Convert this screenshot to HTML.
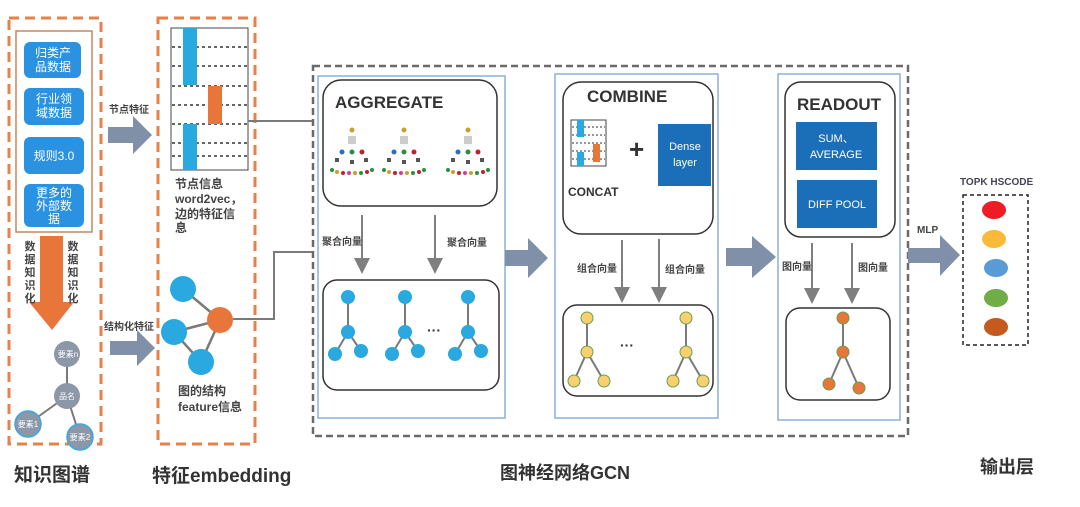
<!DOCTYPE html>
<html><head><meta charset="utf-8"><style>
html,body{margin:0;padding:0;background:#fff;}
svg{display:block;font-family:"Liberation Sans","Noto Sans CJK SC",sans-serif;}
.b{font-weight:bold;}
</style></head><body>
<svg width="1080" height="507" viewBox="0 0 1080 507" xmlns="http://www.w3.org/2000/svg">
<defs>
<marker id="ah" markerWidth="8" markerHeight="8" refX="4" refY="4" orient="auto"><path d="M0,0 L8,4 L0,8 z" fill="#7f7f7f"/></marker>
<g id="tree">
<circle cx="0" cy="0" r="2.5" fill="#c8a030"/><rect x="-4" y="6" width="8" height="8" fill="#ccc"/>
<g fill="#555"><rect x="-17" y="28" width="4" height="4"/><rect x="-2" y="30" width="4" height="4"/><rect x="12" y="28" width="4" height="4"/></g>
<circle cx="-10" cy="22" r="2.5" fill="#2a70c0"/><circle cx="0" cy="22" r="2.5" fill="#2a9040"/><circle cx="10" cy="22" r="2.5" fill="#c02030"/>
<g><circle cx="-20" cy="40" r="2" fill="#2a9040"/><circle cx="-15" cy="42" r="2" fill="#c8a030"/><circle cx="-9" cy="43" r="2" fill="#c02030"/><circle cx="-3" cy="43" r="2" fill="#d04090"/><circle cx="3" cy="43" r="2" fill="#c8a030"/><circle cx="9" cy="43" r="2" fill="#2a9040"/><circle cx="15" cy="42" r="2" fill="#c02030"/><circle cx="20" cy="40" r="2" fill="#2a9040"/></g>
</g>
<g id="bt" stroke="#7a7a7a" stroke-width="2">
<line x1="0" y1="0" x2="0" y2="35"/><line x1="0" y1="35" x2="-13" y2="57"/><line x1="0" y1="35" x2="13" y2="54"/>
<g fill="#2aa8e0" stroke="none"><circle cx="0" cy="0" r="7"/><circle cx="0" cy="35" r="7"/><circle cx="-13" cy="57" r="7"/><circle cx="13" cy="54" r="7"/></g></g>
<g id="yt" stroke="#7a7a7a" stroke-width="2">
<line x1="0" y1="0" x2="0" y2="34"/><line x1="0" y1="34" x2="-13" y2="63"/><line x1="0" y1="34" x2="17" y2="63"/>
<g fill="#f8d070" stroke="#6aa050" stroke-width="1"><circle cx="0" cy="0" r="6"/><circle cx="0" cy="34" r="6"/><circle cx="-13" cy="63" r="6"/><circle cx="17" cy="63" r="6"/></g></g>
</defs>
<!-- Left: knowledge graph -->
<rect x="9" y="18" width="92" height="426" fill="none" stroke="#e8804a" stroke-width="3" stroke-dasharray="10,6"/>
<rect x="16" y="31" width="76" height="201" fill="none" stroke="#c8875e" stroke-width="1.5"/>
<g fill="#2a92e0">
<rect x="24" y="42" width="57" height="36" rx="6"/>
<rect x="24" y="88" width="60" height="37" rx="6"/>
<rect x="24" y="137" width="60" height="37" rx="6"/>
<rect x="24" y="184" width="60" height="43" rx="6"/>
</g>
<g fill="#fff" font-size="12" text-anchor="middle">
<text x="53" y="57">归类产</text><text x="53" y="71">品数据</text>
<text x="54" y="103">行业领</text><text x="54" y="117">域数据</text>
<text x="54" y="160">规则3.0</text>
<text x="54" y="197">更多的</text><text x="54" y="210">外部数</text><text x="54" y="223">据</text>
</g>
<polygon points="40,236 63,236 63,302 74,302 52,330 29,302 40,302" fill="#e8763a"/>
<g font-size="11" class="b" fill="#444" text-anchor="middle">
<text x="30" y="250">数</text><text x="30" y="263">据</text><text x="30" y="276">知</text><text x="30" y="289">识</text><text x="30" y="302">化</text>
<text x="73" y="250">数</text><text x="73" y="263">据</text><text x="73" y="276">知</text><text x="73" y="289">识</text><text x="73" y="302">化</text>
</g>
<g stroke="#7a7a7a" stroke-width="2"><line x1="67" y1="355" x2="67" y2="396"/><line x1="67" y1="396" x2="28" y2="424"/><line x1="67" y1="396" x2="80" y2="437"/></g>
<g fill="#8c97a8">
<circle cx="67" cy="354" r="13"/><circle cx="67" cy="396" r="13"/></g>
<circle cx="28" cy="424" r="13" fill="#8c97a8" stroke="#3aa8e0" stroke-width="1.5"/>
<circle cx="80" cy="437" r="13" fill="#8c97a8" stroke="#3aa8e0" stroke-width="1.5"/>
<g fill="#fff" font-size="8" text-anchor="middle"><text x="68" y="357">要素n</text><text x="67" y="399">品名</text><text x="28" y="427">要素1</text><text x="80" y="440">要素2</text></g>
<text x="14" y="481" font-size="19" class="b" fill="#333">知识图谱</text>

<polygon points="108,127 133,127 133,116 152,135 133,154 133,143 108,143" fill="#8090a8"/>
<text x="109" y="113" font-size="10" class="b" fill="#444">节点特征</text>
<polygon points="110,341 137,341 137,330 155,348 137,366 137,355 110,355" fill="#8090a8"/>
<text x="104" y="330" font-size="10" class="b" fill="#444">结构化特征</text>

<rect x="158" y="18" width="97" height="426" fill="none" stroke="#e8804a" stroke-width="3" stroke-dasharray="10,6"/>
<rect x="171" y="28" width="77" height="142" fill="#fff" stroke="#444" stroke-width="1"/>
<g stroke="#666" stroke-width="2" stroke-dasharray="3,3">
<line x1="172" y1="47" x2="248" y2="47"/><line x1="172" y1="66" x2="248" y2="66"/><line x1="172" y1="86" x2="248" y2="86"/><line x1="172" y1="105" x2="248" y2="105"/><line x1="172" y1="124" x2="248" y2="124"/><line x1="172" y1="143" x2="248" y2="143"/><line x1="172" y1="156" x2="248" y2="156"/></g>
<rect x="183" y="28" width="14" height="57" fill="#2aa8e0"/>
<rect x="208" y="86" width="14" height="38" fill="#e8763a"/>
<rect x="183" y="124" width="14" height="46" fill="#2aa8e0"/>
<g font-size="12" class="b" fill="#444"><text x="175" y="188">节点信息</text><text x="175" y="203">word2vec，</text><text x="175" y="218">边的特征信</text><text x="175" y="232">息</text></g>
<g stroke="#7a7a7a" stroke-width="2.5"><line x1="183" y1="289" x2="220" y2="320"/><line x1="174" y1="332" x2="220" y2="320"/><line x1="174" y1="332" x2="201" y2="362"/><line x1="220" y1="320" x2="201" y2="362"/></g>
<circle cx="183" cy="289" r="13" fill="#2aa8e0"/><circle cx="174" cy="332" r="13" fill="#2aa8e0"/><circle cx="201" cy="362" r="13" fill="#2aa8e0"/><circle cx="220" cy="320" r="13" fill="#e8763a"/>
<g font-size="12" class="b" fill="#444"><text x="178" y="395">图的结构</text><text x="178" y="411">feature信息</text></g>
<text x="152" y="482" font-size="19" class="b" fill="#333">特征embedding</text>

<polyline points="248,121 312,121" fill="none" stroke="#7a7a7a" stroke-width="2"/>
<polyline points="233,319 274,319 274,252 312,252" fill="none" stroke="#7a7a7a" stroke-width="2"/>

<rect x="313" y="66" width="595" height="370" fill="none" stroke="#6a6a6a" stroke-width="2.5" stroke-dasharray="7,4"/>
<rect x="318" y="76" width="187" height="342" fill="none" stroke="#8ab0d8" stroke-width="1.5"/>
<rect x="323" y="80" width="174" height="126" rx="18" fill="none" stroke="#333" stroke-width="1.5"/>
<text x="335" y="108" font-size="17" class="b" fill="#333">AGGREGATE</text>
<use href="#tree" x="352" y="130"/><use href="#tree" x="404" y="130"/><use href="#tree" x="468" y="130"/>
<g stroke="#7f7f7f" stroke-width="2"><line x1="362" y1="215" x2="362" y2="266" marker-end="url(#ah)"/><line x1="435" y1="215" x2="435" y2="266" marker-end="url(#ah)"/></g>
<g font-size="10" class="b" fill="#444"><text x="322" y="245">聚合向量</text><text x="447" y="246">聚合向量</text></g>
<rect x="323" y="280" width="176" height="110" rx="14" fill="none" stroke="#333" stroke-width="1.5"/>
<use href="#bt" x="348" y="297"/><use href="#bt" x="405" y="297"/><use href="#bt" x="468" y="297"/>
<text x="427" y="335" font-size="14" class="b" fill="#333">···</text>

<polygon points="505,250 528,250 528,238 548,258 528,278 528,266 505,266" fill="#8090a8"/>

<rect x="555" y="74" width="163" height="344" fill="none" stroke="#8ab0d8" stroke-width="1.5"/>
<rect x="563" y="82" width="150" height="152" rx="18" fill="none" stroke="#333" stroke-width="1.5"/>
<text x="587" y="102" font-size="17" class="b" fill="#333">COMBINE</text>
<rect x="571" y="120" width="35" height="46" fill="#fff" stroke="#444"/>
<g stroke="#777" stroke-width="1.5" stroke-dasharray="2,2"><line x1="572" y1="127" x2="605" y2="127"/><line x1="572" y1="135" x2="605" y2="135"/><line x1="572" y1="143" x2="605" y2="143"/><line x1="572" y1="151" x2="605" y2="151"/><line x1="572" y1="159" x2="605" y2="159"/></g>
<rect x="577" y="120" width="7" height="17" fill="#2aa8e0"/><rect x="593" y="144" width="7" height="18" fill="#e8763a"/><rect x="577" y="152" width="7" height="14" fill="#2aa8e0"/>
<text x="568" y="196" font-size="12" class="b" fill="#333">CONCAT</text>
<text x="629" y="158" font-size="26" class="b" fill="#333">+</text>
<rect x="658" y="124" width="53" height="62" fill="#1a6fb8"/>
<g fill="#fff" font-size="11" text-anchor="middle"><text x="685" y="150">Dense</text><text x="685" y="166">layer</text></g>
<g stroke="#7f7f7f" stroke-width="2"><line x1="622" y1="240" x2="622" y2="295" marker-end="url(#ah)"/><line x1="659" y1="239" x2="659" y2="295" marker-end="url(#ah)"/></g>
<g font-size="10" class="b" fill="#444"><text x="577" y="272">组合向量</text><text x="665" y="273">组合向量</text></g>
<rect x="563" y="305" width="150" height="91" rx="14" fill="none" stroke="#333" stroke-width="1.5"/>
<use href="#yt" x="587" y="318"/><use href="#yt" x="686" y="318"/>
<text x="620" y="350" font-size="14" class="b" fill="#333">···</text>

<polygon points="726,248 752,248 752,236 776,257 752,278 752,266 726,266" fill="#8090a8"/>

<rect x="778" y="74" width="122" height="346" fill="none" stroke="#8ab0d8" stroke-width="1.5"/>
<rect x="785" y="82" width="110" height="155" rx="16" fill="none" stroke="#333" stroke-width="1.5"/>
<text x="797" y="110" font-size="17" class="b" fill="#333">READOUT</text>
<rect x="796" y="122" width="81" height="48" fill="#1a6fb8"/>
<rect x="797" y="180" width="80" height="48" fill="#1a6fb8"/>
<g fill="#fff" font-size="11" text-anchor="middle"><text x="836" y="142">SUM、</text><text x="836" y="158">AVERAGE</text><text x="837" y="208">DIFF POOL</text></g>
<g stroke="#7f7f7f" stroke-width="2"><line x1="812" y1="243" x2="812" y2="296" marker-end="url(#ah)"/><line x1="852" y1="243" x2="852" y2="296" marker-end="url(#ah)"/></g>
<g font-size="10" class="b" fill="#444"><text x="782" y="270">图向量</text><text x="858" y="271">图向量</text></g>
<rect x="786" y="308" width="104" height="92" rx="14" fill="none" stroke="#333" stroke-width="1.5"/>
<g stroke="#7a7a7a" stroke-width="2">
<line x1="843" y1="318" x2="843" y2="352"/><line x1="843" y1="352" x2="829" y2="384"/><line x1="843" y1="352" x2="859" y2="388"/>
<g fill="#e8763a" stroke="#6aa050" stroke-width="1"><circle cx="843" cy="318" r="6"/><circle cx="843" cy="352" r="6"/><circle cx="829" cy="384" r="6"/><circle cx="859" cy="388" r="6"/></g></g>
<text x="500" y="479" font-size="18" class="b" fill="#333">图神经网络GCN</text>

<polygon points="908,248 940,248 940,235 960,255 940,276 940,263 908,263" fill="#8090a8"/>
<text x="917" y="233" font-size="10" class="b" fill="#444">MLP</text>
<text x="960" y="185" font-size="10" class="b" fill="#445">TOPK  HSCODE</text>
<rect x="963" y="195" width="65" height="150" fill="none" stroke="#222" stroke-width="1.5" stroke-dasharray="4,3"/>
<ellipse cx="994" cy="210" rx="12" ry="9" fill="#ee1c25"/>
<ellipse cx="994" cy="239" rx="12" ry="9" fill="#fbb93a"/>
<ellipse cx="996" cy="268" rx="12" ry="9" fill="#5b9bd5"/>
<ellipse cx="996" cy="298" rx="12" ry="9" fill="#70ad47"/>
<ellipse cx="996" cy="327" rx="12" ry="9" fill="#c55a1e"/>
<text x="980" y="473" font-size="18" class="b" fill="#333">输出层</text>
</svg>
</body></html>
